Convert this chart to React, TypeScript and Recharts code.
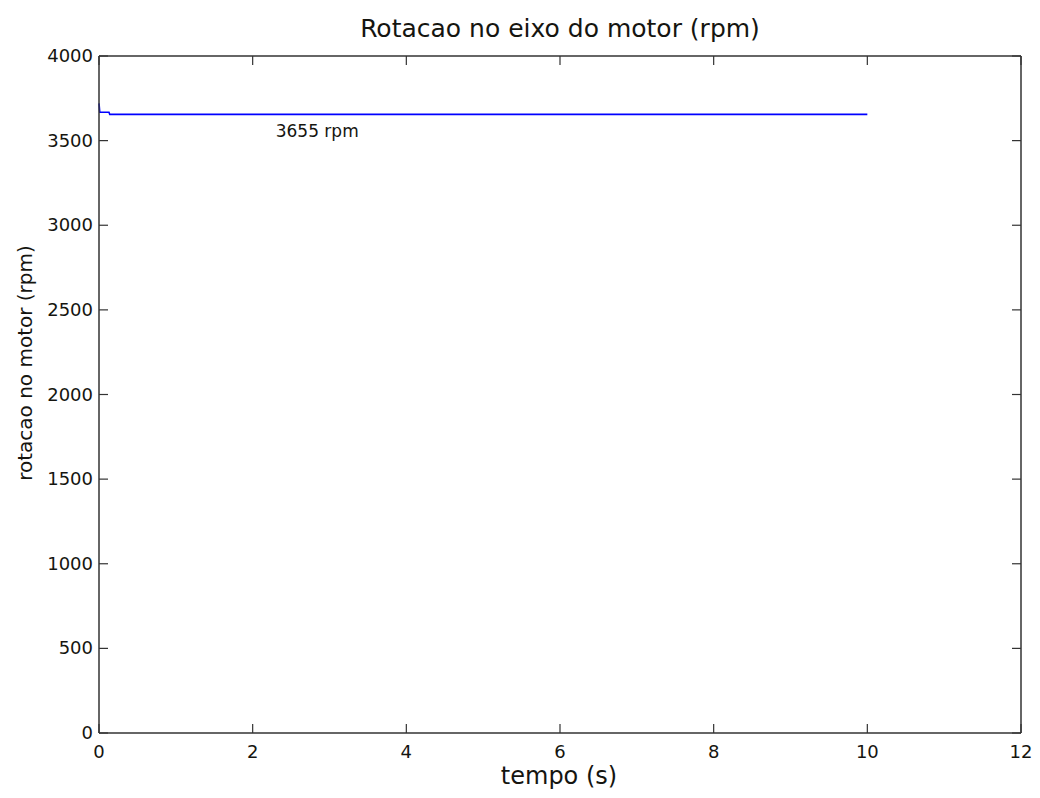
import { LineChart, Line, XAxis, YAxis, ReferenceDot } from 'recharts';

const times = [0, 0.01, 0.13, 0.14, 10];
const rpm = [3720, 3668, 3668, 3655, 3655];
const xTicks = [0, 2, 4, 6, 8, 10, 12];
const yTicks = [0, 500, 1000, 1500, 2000, 2500, 3000, 3500, 4000];
const annotation = { t: 2.84, v: 3557, text: '3655 rpm' };

const data = times.map((t, i) => ({ t, rpm: rpm[i] }));

const W = 1040;
const H = 798;
const MARGIN = { top: 55, right: 18, bottom: 0, left: 0 };
const X_AXIS_H = 65;
const Y_AXIS_W = 99;
// edges of the plot box, taken from the layout above
const LEFT = MARGIN.left + Y_AXIS_W;
const RIGHT = W - MARGIN.right - 1;
const TOP = MARGIN.top + 1;
const BOTTOM = H - MARGIN.bottom - X_AXIS_H;

const FONT = '"DejaVu Sans", sans-serif';
const AXIS = '#333';
const TEXT = '#151510';
const TICK_LEN = 9;

function BottomTick(props: any) {
  const { x, payload } = props;
  return (
    <g>
      <line x1={x} y1={BOTTOM} x2={x} y2={BOTTOM - TICK_LEN} stroke={AXIS} strokeWidth={1.2} />
      <text x={x} y={BOTTOM + 25} textAnchor="middle" fontSize={18} fontFamily={FONT} fill={TEXT}>
        {payload.value}
      </text>
    </g>
  );
}

function TopTick(props: any) {
  const { x } = props;
  return <line x1={x} y1={TOP} x2={x} y2={TOP + TICK_LEN} stroke={AXIS} strokeWidth={1.2} />;
}

function LeftTick(props: any) {
  const { y, payload } = props;
  return (
    <g>
      <line x1={LEFT} y1={y} x2={LEFT + TICK_LEN} y2={y} stroke={AXIS} strokeWidth={1.2} />
      <text x={LEFT - 6} y={y + 6} textAnchor="end" fontSize={18} fontFamily={FONT} fill={TEXT}>
        {payload.value}
      </text>
    </g>
  );
}

function RightTick(props: any) {
  const { y } = props;
  return <line x1={RIGHT} y1={y} x2={RIGHT - TICK_LEN} y2={y} stroke={AXIS} strokeWidth={1.2} />;
}

export default function App() {
  return (
    <div style={{ position: 'absolute', left: 0, top: 0, width: W, height: H, background: '#fff' }}>
      <div
        style={{
          position: 'absolute',
          left: 0,
          width: 1120,
          top: 14,
          textAlign: 'center',
          fontFamily: FONT,
          fontSize: 25,
          color: TEXT,
          whiteSpace: 'nowrap',
        }}
      >
        Rotacao no eixo do motor (rpm)
      </div>
      <div
        style={{
          position: 'absolute',
          left: 0,
          width: 1118,
          top: 762,
          textAlign: 'center',
          fontFamily: FONT,
          fontSize: 24,
          color: TEXT,
          whiteSpace: 'nowrap',
        }}
      >
        tempo (s)
      </div>
      <div
        style={{
          position: 'absolute',
          left: 25,
          top: 363,
          transform: 'translate(-50%, -50%) rotate(-90deg)',
          fontFamily: FONT,
          fontSize: 20,
          color: TEXT,
          whiteSpace: 'nowrap',
        }}
      >
        rotacao no motor (rpm)
      </div>
      <LineChart
        width={W}
        height={H}
        data={data}
        margin={MARGIN}
        style={{ position: 'absolute', left: 0, top: 0 }}
      >
        <XAxis
          xAxisId="b"
          dataKey="t"
          type="number"
          domain={[0, 12]}
          ticks={xTicks}
          height={X_AXIS_H}
          tickLine={false}
          axisLine={{ stroke: AXIS, strokeWidth: 1.5 }}
          tick={<BottomTick />}
          interval={0}
        />
        <XAxis
          xAxisId="top"
          orientation="top"
          dataKey="t"
          type="number"
          domain={[0, 12]}
          ticks={xTicks}
          height={1}
          tickLine={false}
          axisLine={{ stroke: AXIS, strokeWidth: 1.5 }}
          tick={<TopTick />}
          interval={0}
        />
        <YAxis
          yAxisId="l"
          type="number"
          domain={[0, 4000]}
          ticks={yTicks}
          width={Y_AXIS_W}
          tickLine={false}
          axisLine={{ stroke: AXIS, strokeWidth: 1.5 }}
          tick={<LeftTick />}
          interval={0}
        />
        <YAxis
          yAxisId="r"
          orientation="right"
          type="number"
          domain={[0, 4000]}
          ticks={yTicks}
          width={1}
          tickLine={false}
          axisLine={{ stroke: AXIS, strokeWidth: 1.5 }}
          tick={<RightTick />}
          interval={0}
        />
        <Line
          xAxisId="b"
          yAxisId="l"
          type="linear"
          dataKey="rpm"
          stroke="#0000ff"
          strokeWidth={1.6}
          dot={false}
          isAnimationActive={false}
        />
        <Line
          xAxisId="top"
          yAxisId="r"
          type="linear"
          dataKey="rpm"
          stroke="none"
          dot={false}
          legendType="none"
          isAnimationActive={false}
        />
        <ReferenceDot
          xAxisId="b"
          yAxisId="l"
          x={annotation.t}
          y={annotation.v}
          r={0}
          fill="none"
          stroke="none"
          label={{ value: annotation.text, position: 'center', fontSize: 17, fontFamily: FONT, fill: TEXT }}
        />
      </LineChart>
    </div>
  );
}
